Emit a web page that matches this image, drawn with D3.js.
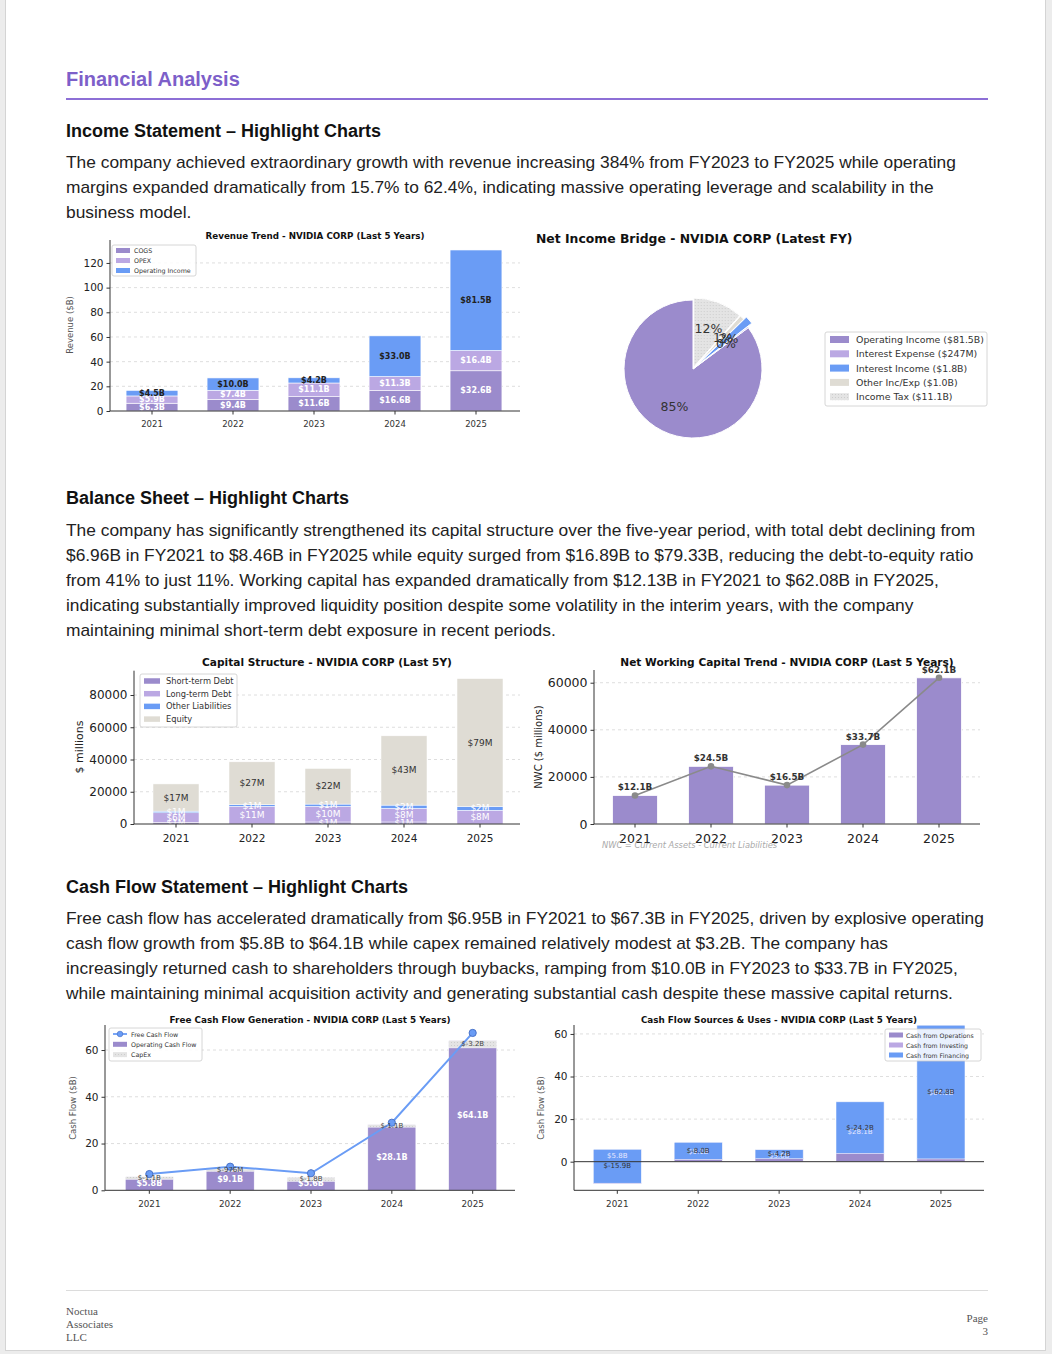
<!DOCTYPE html>
<html><head><meta charset="utf-8">
<script src="https://cdn.jsdelivr.net/npm/d3@7"></script>
<style>
body{margin:0;background:#ececec;width:1052px;height:1354px;overflow:hidden;position:relative;font-family:"Liberation Sans",Arial,sans-serif;}
#page{position:absolute;left:5px;top:-2px;width:1041px;height:1353px;background:#fff;border:1px solid #d4d4d4;box-sizing:border-box;}
.t{position:absolute;white-space:nowrap;}
.h1{font-weight:bold;font-size:20px;line-height:24px;color:#7d5fc9;left:66px;}
.h2{font-weight:bold;font-size:18px;line-height:20px;color:#111;left:66px;}
.p{font-size:17.35px;line-height:25px;color:#222;left:66px;}
.foot{font-family:"Liberation Serif","Times New Roman",serif;font-size:11px;line-height:13px;color:#555;}
svg{position:absolute;left:0;top:0;}
</style></head>
<body>
<div id="page"></div>
<div class="t h1" style="top:67px">Financial Analysis</div>
<div class="t" style="left:66px;top:98px;width:922px;height:2px;background:#8d6fd6"></div>
<div class="t h2" style="top:121px">Income Statement – Highlight Charts</div>
<div class="t p" style="top:149.5px">The company achieved extraordinary growth with revenue increasing 384% from FY2023 to FY2025 while operating<br>margins expanded dramatically from 15.7% to 62.4%, indicating massive operating leverage and scalability in the<br>business model.</div>
<div class="t h2" style="top:488px">Balance Sheet – Highlight Charts</div>
<div class="t p" style="top:517.5px">The company has significantly strengthened its capital structure over the five-year period, with total debt declining from<br>$6.96B in FY2021 to $8.46B in FY2025 while equity surged from $16.89B to $79.33B, reducing the debt-to-equity ratio<br>from 41% to just 11%. Working capital has expanded dramatically from $12.13B in FY2021 to $62.08B in FY2025,<br>indicating substantially improved liquidity position despite some volatility in the interim years, with the company<br>maintaining minimal short-term debt exposure in recent periods.</div>
<div class="t h2" style="top:877px">Cash Flow Statement – Highlight Charts</div>
<div class="t p" style="top:905.5px">Free cash flow has accelerated dramatically from $6.95B in FY2021 to $67.3B in FY2025, driven by explosive operating<br>cash flow growth from $5.8B to $64.1B while capex remained relatively modest at $3.2B. The company has<br>increasingly returned cash to shareholders through buybacks, ramping from $10.0B in FY2023 to $33.7B in FY2025,<br>while maintaining minimal acquisition activity and generating substantial cash despite these massive capital returns.</div>
<div class="t" style="left:66px;top:1290px;width:922px;height:1px;background:#dcdcdc"></div>
<div class="t foot" style="left:66px;top:1304.5px">Noctua<br>Associates<br>LLC</div>
<div class="t foot" style="right:64px;top:1311.5px;text-align:right">Page<br>3</div>
<svg id="chart" width="1052" height="1354"></svg>
<script>
// ---------------- DATA ----------------
const years = ["2021","2022","2023","2024","2025"];
// Revenue trend ($B)
const cogs = [6.3, 9.4, 11.6, 16.6, 32.6];
const opex = [5.9, 7.4, 11.1, 11.3, 16.4];
const opIncome = [4.5, 10.0, 4.2, 33.0, 81.5];
const revTicks = [0, 20, 40, 60, 80, 100, 120];
// Net income bridge ($B)
const bridgeNames = ["Operating Income ($81.5B)", "Interest Expense ($247M)", "Interest Income ($1.8B)", "Other Inc/Exp ($1.0B)", "Income Tax ($11.1B)"];
const bridgeValues = [81.5, 0.247, 1.8, 1.0, 11.1];
// Capital structure ($M)
const stDebt = [999, 0, 1250, 1250, 0];
const ltDebt = [5964, 10946, 9703, 8459, 8463];
const otherLiab = [1000, 1000, 1400, 2000, 2400];
const equity = [16893, 26612, 22101, 42978, 79327];
const capTicks = [0, 20000, 40000, 60000, 80000];
// Net working capital ($M)
const nwc = [12130, 24490, 16510, 33710, 62080];
const nwcTicks = [0, 20000, 40000, 60000];
// Free cash flow ($B)
const ocf = [5.8, 9.1, 5.6, 28.1, 64.1];
const capex = [-1.1, -0.976, -1.8, -1.1, -3.2];
const fcf = [6.95, 10.1, 7.3, 28.9, 67.3];
const cfTicks = [0, 20, 40, 60];
// Cash flow sources & uses ($B)
const cashOps = [5.8, 9.1, 5.6, 28.1, 64.1];
const cashInvFin = [-15.9, -8.0, -4.2, -24.2, -62.8];

// ---------------- STYLE ----------------
const C_PUR = "#9b8bcc", C_LAV = "#bba8e3", C_BLUE = "#6a9cf5", C_BEIGE = "#dfdcd4";
const FONT = "DejaVu Sans, Verdana, sans-serif";
const svg = d3.select("#chart");
const defs = svg.append("defs");
const pat = defs.append("pattern").attr("id","dots").attr("width",3).attr("height",3).attr("patternUnits","userSpaceOnUse");
pat.append("rect").attr("width",3).attr("height",3).attr("fill","#e4e4e4");
pat.append("circle").attr("cx",1.5).attr("cy",1.5).attr("r",0.45).attr("fill","#b5b5b5");

function txt(g, x, y, s, o={}) {
  return g.append("text").attr("x",x).attr("y",y).text(s)
    .attr("font-family",FONT).attr("font-size",o.size||9).attr("font-weight",o.bold?"bold":"normal")
    .attr("fill",o.fill||"#222").attr("text-anchor",o.anchor||"middle").attr("dominant-baseline","central")
    .attr("font-style",o.italic?"italic":"normal");
}
function grid(g, o) {
  g.append("g").selectAll("line").data(o.grid).join("line")
    .attr("x1",o.left).attr("x2",o.right).attr("y1",d=>o.y(d)).attr("y2",d=>o.y(d))
    .attr("stroke","#d6d6d6").attr("stroke-width",0.8).attr("stroke-dasharray","3,3");
}
function axes(g, o) {
  const ya = g.append("g").attr("transform",`translate(${o.left},0)`)
    .call(d3.axisLeft(o.y).tickValues(o.yTicks).tickSize(3.5).tickPadding(3).tickFormat(o.yFmt||d3.format("d")));
  ya.select(".domain").remove();
  ya.selectAll("text").attr("font-family",FONT).attr("font-size",o.yFont).attr("fill","#222");
  ya.selectAll("line").attr("stroke","#333");
  const xa = g.append("g").attr("transform",`translate(0,${o.bottom})`)
    .call(d3.axisBottom(o.x).tickSize(3.5).tickPadding(o.xPad||6.5));
  xa.select(".domain").remove();
  xa.selectAll("text").attr("font-family",FONT).attr("font-size",o.xFont).attr("fill",o.xFill||"#222");
  xa.selectAll("line").attr("stroke","#333");
  g.append("line").attr("x1",o.left).attr("x2",o.left).attr("y1",o.top).attr("y2",o.bottom).attr("stroke","#333").attr("stroke-width",1);
  g.append("line").attr("x1",o.left).attr("x2",o.right).attr("y1",o.bottom).attr("y2",o.bottom).attr("stroke","#333").attr("stroke-width",1);
}
function legend(g, x, y, w, h, items, o) {
  g.append("rect").attr("x",x).attr("y",y).attr("width",w).attr("height",h).attr("rx",2)
    .attr("fill","#fff").attr("fill-opacity",0.85).attr("stroke","#ccc").attr("stroke-width",0.8);
  items.forEach((it,i)=>{
    const cy = y + o.first + i*o.gap;
    if (it.line) {
      g.append("line").attr("x1",x+o.sx).attr("x2",x+o.sx+o.sw).attr("y1",cy).attr("y2",cy).attr("stroke",it.color).attr("stroke-width",1.8);
      g.append("circle").attr("cx",x+o.sx+o.sw/2).attr("cy",cy).attr("r",2.8).attr("fill",it.color).attr("stroke","#4a73c8").attr("stroke-width",0.7);
    } else {
      g.append("rect").attr("x",x+o.sx).attr("y",cy-o.sh/2).attr("width",o.sw).attr("height",o.sh).attr("fill",it.color);
    }
    txt(g, x+o.tx, cy, it.name, {size:o.size, anchor:"start", fill:"#333"});
  });
}

// ---------------- 1. Revenue trend ----------------
{
  const g = svg.append("g");
  const o = {left:110, right:520, top:240, bottom:411};
  o.x = d3.scaleBand().domain(years).range([111.5,516.5]).paddingInner(0.36).paddingOuter(0.18);
  o.y = d3.scaleLinear().domain([0,138.6]).range([411,240]);
  o.grid = revTicks.slice(1); o.yTicks = revTicks; o.yFont = 10.5; o.xFont = 8.5; o.xFill="#333"; o.xPad = 6;
  grid(g,o);
  const rows = years.map((y,i)=>({year:y, cogs:cogs[i], opex:opex[i], op:opIncome[i]}));
  const keys = ["cogs","opex","op"], cols = {cogs:C_PUR, opex:C_LAV, op:C_BLUE};
  const st = d3.stack().keys(keys)(rows);
  st.forEach(s=>{
    g.append("g").selectAll("rect").data(s).join("rect")
      .attr("x",d=>o.x(d.data.year)).attr("width",o.x.bandwidth())
      .attr("y",d=>o.y(d[1])).attr("height",d=>o.y(d[0])-o.y(d[1]))
      .attr("fill",cols[s.key]).attr("stroke","#fff").attr("stroke-width",0.6);
  });
  st.forEach(s=>{
    s.forEach(d=>{
      const v = d[1]-d[0];
      txt(g, o.x(d.data.year)+o.x.bandwidth()/2, o.y((d[0]+d[1])/2), "$"+v.toFixed(1)+"B",
        {size:8, bold:true, fill: s.key==="op" ? "#222" : "#fff"});
    });
  });
  axes(g,o);
  txt(g, 315, 236, "Revenue Trend - NVIDIA CORP (Last 5 Years)", {size:8.75, bold:true, fill:"#111"});
  txt(g, 0, 0, "Revenue ($B)", {size:8.5, fill:"#555"}).attr("transform","translate(70,325) rotate(-90)");
  legend(g, 112, 245, 84, 31, [{name:"COGS",color:C_PUR},{name:"OPEX",color:C_LAV},{name:"Operating Income",color:C_BLUE}],
    {first:5.5, gap:10, sx:4, sw:14, sh:5, tx:22, size:6.3});
}

// ---------------- 2. Net income bridge pie ----------------
{
  const g = svg.append("g");
  const cx = 693, cy = 369, r = 69;
  const cols = [C_PUR, C_LAV, C_BLUE, C_BEIGE, "url(#dots)"];
  const explode = [0, 0, 0.08, 0.03, 0.03];
  const pie = d3.pie().sort(null).startAngle(0).endAngle(-2*Math.PI)(bridgeValues);
  const arc = d3.arc().innerRadius(0).outerRadius(r);
  const labArc = d3.arc().innerRadius(0.6*r).outerRadius(0.6*r);
  const total = d3.sum(bridgeValues);
  pie.forEach((p,i)=>{
    const mid = (p.startAngle+p.endAngle)/2;
    const dx = Math.sin(mid)*explode[i]*r, dy = -Math.cos(mid)*explode[i]*r;
    g.append("path").attr("d",arc(p)).attr("transform",`translate(${cx+dx},${cy+dy})`)
      .attr("fill",cols[i]).attr("stroke","#fff").attr("stroke-width",1);
  });
  pie.forEach((p,i)=>{
    const mid = (p.startAngle+p.endAngle)/2;
    const dx = Math.sin(mid)*explode[i]*r, dy = -Math.cos(mid)*explode[i]*r;
    const c = labArc.centroid(p);
    txt(g, cx+dx+c[0], cy+dy+c[1], Math.round(bridgeValues[i]/total*100)+"%", {size:12.5, fill:"#333"});
  });
  txt(g, 536, 238, "Net Income Bridge - NVIDIA CORP (Latest FY)", {size:12.4, bold:true, anchor:"start", fill:"#111"});
  legend(g, 825, 332, 162, 74, bridgeNames.map((n,i)=>({name:n,color:cols[i]})),
    {first:7.5, gap:14.3, sx:5, sw:19, sh:7, tx:31, size:9.4});
}

// ---------------- 3. Capital structure ----------------
{
  const g = svg.append("g");
  const o = {left:134, right:520, top:670.7, bottom:824};
  o.x = d3.scaleBand().domain(years).range([138,518]).paddingInner(0.395).paddingOuter(0.1975);
  o.y = d3.scaleLinear().domain([0,95080]).range([824,670.7]);
  o.grid = capTicks.slice(1); o.yTicks = capTicks; o.yFont = 12; o.xFont = 10.5; o.xPad = 7.5;
  grid(g,o);
  const rows = years.map((y,i)=>({year:y, st:stDebt[i], lt:ltDebt[i], oth:otherLiab[i], eq:equity[i]}));
  const keys = ["st","lt","oth","eq"], cols = {st:C_PUR, lt:C_LAV, oth:C_BLUE, eq:C_BEIGE};
  const st = d3.stack().keys(keys)(rows);
  st.forEach(s=>{
    g.append("g").selectAll("rect").data(s).join("rect")
      .attr("x",d=>o.x(d.data.year)).attr("width",o.x.bandwidth())
      .attr("y",d=>o.y(d[1])).attr("height",d=>o.y(d[0])-o.y(d[1]))
      .attr("fill",cols[s.key]).attr("stroke","#fff").attr("stroke-width",0.5);
  });
  st.forEach(s=>{
    s.forEach(d=>{
      const v = d[1]-d[0];
      if (v<=0) return;
      txt(g, o.x(d.data.year)+o.x.bandwidth()/2, o.y((d[0]+d[1])/2), "$"+Math.round(v/1000)+"M",
        {size:9, fill: s.key==="eq" ? "#333" : "#fff"});
    });
  });
  axes(g,o);
  txt(g, 327, 662, "Capital Structure - NVIDIA CORP (Last 5Y)", {size:10.6, bold:true, fill:"#111"});
  txt(g, 0, 0, "$ millions", {size:11, fill:"#222"}).attr("transform","translate(79,747) rotate(-90)");
  legend(g, 140, 674, 97, 53, [{name:"Short-term Debt",color:C_PUR},{name:"Long-term Debt",color:C_LAV},{name:"Other Liabilities",color:C_BLUE},{name:"Equity",color:C_BEIGE}],
    {first:7, gap:12.7, sx:4, sw:16, sh:5.5, tx:26, size:8.3});
}

// ---------------- 4. Net working capital ----------------
{
  const g = svg.append("g");
  const o = {left:594, right:980, top:670, bottom:824};
  o.x = d3.scaleBand().domain(years).range([597,977]).paddingInner(0.408).paddingOuter(0.204);
  o.y = d3.scaleLinear().domain([0,65400]).range([824,670]);
  o.grid = nwcTicks.slice(1); o.yTicks = nwcTicks; o.yFont = 12.5; o.xFont = 12.5; o.xPad = 7;
  grid(g,o);
  g.append("g").selectAll("rect").data(nwc).join("rect")
    .attr("x",(d,i)=>o.x(years[i])).attr("width",o.x.bandwidth())
    .attr("y",d=>o.y(d)).attr("height",d=>o.y(0)-o.y(d))
    .attr("fill",C_PUR).attr("stroke","#fff").attr("stroke-width",0.8);
  const cx = i=>o.x(years[i])+o.x.bandwidth()/2;
  g.append("path").datum(nwc).attr("d",d3.line().x((d,i)=>cx(i)).y(d=>o.y(d)))
    .attr("fill","none").attr("stroke","#8a8a8a").attr("stroke-width",1.6);
  g.append("g").selectAll("circle").data(nwc).join("circle")
    .attr("cx",(d,i)=>cx(i)).attr("cy",d=>o.y(d)).attr("r",3.3).attr("fill","#8a8a8a");
  nwc.forEach((d,i)=>txt(g, cx(i), o.y(d)-8, "$"+(d/1000).toFixed(1)+"B", {size:8.8, bold:true, fill:"#333"}));
  axes(g,o);
  txt(g, 787, 662, "Net Working Capital Trend - NVIDIA CORP (Last 5 Years)", {size:10.6, bold:true, fill:"#111"});
  txt(g, 0, 0, "NWC ($ millions)", {size:10, fill:"#222"}).attr("transform","translate(538,747) rotate(-90)");
  txt(g, 602, 845, "NWC = Current Assets - Current Liabilities", {size:8.3, italic:true, anchor:"start", fill:"#aaa"});
}

// ---------------- 5. Free cash flow ----------------
{
  const g = svg.append("g");
  const o = {left:105, right:515, top:1025, bottom:1190.3};
  o.x = d3.scaleBand().domain(years).range([108.9,513.1]).paddingInner(0.406).paddingOuter(0.203);
  o.y = d3.scaleLinear().domain([0,70.7]).range([1190.3,1025]);
  o.grid = cfTicks.slice(1); o.yTicks = cfTicks; o.yFont = 10.5; o.xFont = 8.8; o.xFill="#333"; o.xPad = 6.5;
  grid(g,o);
  const bx = i=>o.x(years[i]), cx = i=>o.x(years[i])+o.x.bandwidth()/2;
  g.append("g").selectAll("rect").data(ocf).join("rect")
    .attr("x",(d,i)=>bx(i)).attr("width",o.x.bandwidth())
    .attr("y",d=>o.y(d)).attr("height",d=>o.y(0)-o.y(d))
    .attr("fill",C_PUR).attr("stroke","#fff").attr("stroke-width",0.5);
  g.append("g").selectAll("rect").data(capex).join("rect")
    .attr("x",(d,i)=>bx(i)).attr("width",o.x.bandwidth())
    .attr("y",(d,i)=>o.y(ocf[i])).attr("height",(d,i)=>o.y(ocf[i]+d)-o.y(ocf[i]))
    .attr("fill","url(#dots)").attr("stroke","#fff").attr("stroke-width",0.5);
  // FCF line
  g.append("path").datum(fcf).attr("d",d3.line().x((d,i)=>cx(i)).y(d=>o.y(d)))
    .attr("fill","none").attr("stroke",C_BLUE).attr("stroke-width",2);
  g.append("g").selectAll("circle").data(fcf).join("circle")
    .attr("cx",(d,i)=>cx(i)).attr("cy",d=>o.y(d)).attr("r",3.6).attr("fill",C_BLUE).attr("stroke","#4a73c8").attr("stroke-width",1);
  ocf.forEach((d,i)=>txt(g, cx(i), o.y(d/2), "$"+d.toFixed(1)+"B", {size:8, bold:true, fill:"#fff"}));
  capex.forEach((d,i)=>{
    const s = Math.abs(d)<1 ? "$"+Math.round(d*1000)+"M" : "$"+d.toFixed(1)+"B";
    txt(g, cx(i), o.y(ocf[i]+d/2), s, {size:7, fill:"#444"});
  });
  axes(g,o);
  txt(g, 310, 1020, "Free Cash Flow Generation - NVIDIA CORP (Last 5 Years)", {size:8.85, bold:true, fill:"#111"});
  txt(g, 0, 0, "Cash Flow ($B)", {size:8.5, fill:"#555"}).attr("transform","translate(73,1108) rotate(-90)");
  legend(g, 109, 1028, 93, 33, [{name:"Free Cash Flow",color:C_BLUE,line:true},{name:"Operating Cash Flow",color:C_PUR},{name:"CapEx",color:"url(#dots)"}],
    {first:6, gap:10.3, sx:4, sw:14, sh:5, tx:22, size:6.3});
}

// ---------------- 6. Cash flow sources & uses ----------------
{
  const g = svg.append("g");
  const o = {left:574, right:984, top:1025, bottom:1190.3};
  o.x = d3.scaleBand().domain(years).range([576.85,981.4]).paddingInner(0.406).paddingOuter(0.203);
  o.y = d3.scaleLinear().domain([-13.44,64.2]).range([1190.3,1025]);
  o.grid = cfTicks.slice(1); o.yTicks = cfTicks; o.yFont = 10.5; o.xFont = 8.8; o.xFill="#333"; o.xPad = 6.5;
  grid(g,o);
  const bx = i=>o.x(years[i]), cx = i=>o.x(years[i])+o.x.bandwidth()/2;
  g.append("g").selectAll("rect").data(cashOps).join("rect")
    .attr("x",(d,i)=>bx(i)).attr("width",o.x.bandwidth())
    .attr("y",d=>o.y(d)).attr("height",d=>o.y(0)-o.y(d))
    .attr("fill",C_PUR).attr("stroke","#fff").attr("stroke-width",0.5);
  // investing edge at net level
  g.append("g").selectAll("line").data(cashInvFin).join("line")
    .attr("x1",(d,i)=>bx(i)).attr("x2",(d,i)=>bx(i)+o.x.bandwidth())
    .attr("y1",(d,i)=>o.y(cashOps[i]+d)).attr("y2",(d,i)=>o.y(cashOps[i]+d))
    .attr("stroke",C_LAV).attr("stroke-width",1);
  g.append("g").selectAll("rect").data(cashInvFin).join("rect")
    .attr("x",(d,i)=>bx(i)).attr("width",o.x.bandwidth())
    .attr("y",(d,i)=>o.y(Math.max(cashOps[i], cashOps[i]+d)))
    .attr("height",(d,i)=>Math.abs(o.y(cashOps[i]+d)-o.y(cashOps[i])))
    .attr("fill",C_BLUE).attr("stroke","#fff").attr("stroke-width",0.5);
  cashOps.forEach((d,i)=>txt(g, cx(i), o.y(d/2), "$"+d.toFixed(1)+"B", {size:7, fill:"#e8e8ff"}));
  cashInvFin.forEach((d,i)=>txt(g, cx(i), o.y(cashOps[i]+d/2), "$"+d.toFixed(1)+"B", {size:7, fill:"#333"}));
  g.append("line").attr("x1",o.left).attr("x2",o.right).attr("y1",o.y(0)).attr("y2",o.y(0)).attr("stroke","#333").attr("stroke-width",1);
  axes(g,o);
  txt(g, 779, 1020, "Cash Flow Sources & Uses - NVIDIA CORP (Last 5 Years)", {size:8.8, bold:true, fill:"#111"});
  txt(g, 0, 0, "Cash Flow ($B)", {size:8.5, fill:"#555"}).attr("transform","translate(541,1108) rotate(-90)");
  legend(g, 885, 1029, 96, 32, [{name:"Cash from Operations",color:C_PUR},{name:"Cash from Investing",color:C_LAV},{name:"Cash from Financing",color:C_BLUE}],
    {first:6, gap:10, sx:4, sw:14, sh:5, tx:21, size:6.2});
}
</script>
</body></html>
